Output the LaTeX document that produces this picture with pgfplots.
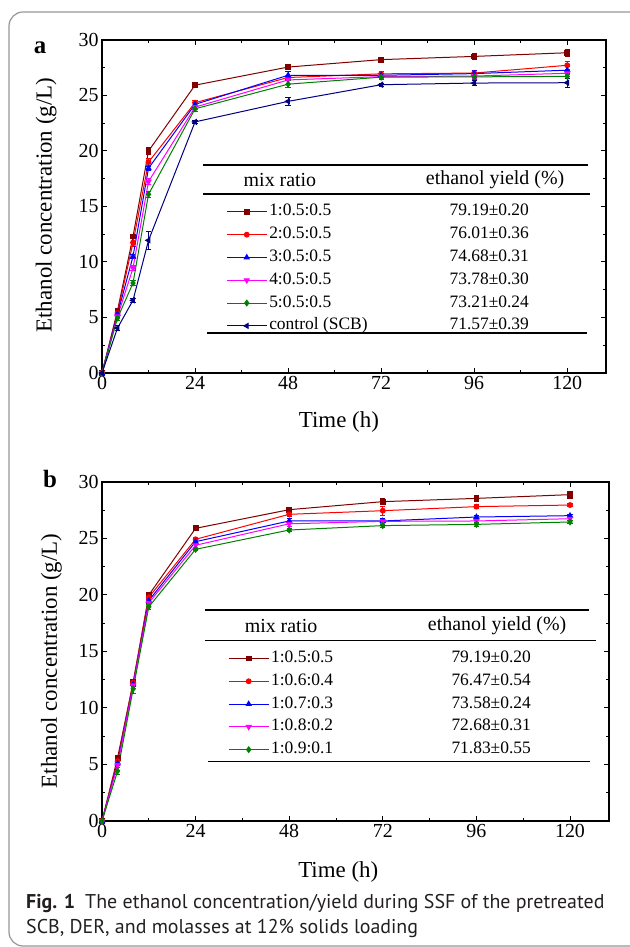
\documentclass[border=0pt]{standalone}
\usepackage{fontspec}
\setmainfont{Liberation Serif}
\newfontfamily\capfont{PT Sans}
\usepackage{pgfplots}
\usepackage{pgfplotstable}
\pgfplotsset{compat=1.18}
\definecolor{colA}{RGB}{128,0,0}
\definecolor{colB}{RGB}{255,0,0}
\definecolor{colC}{RGB}{0,0,255}
\definecolor{colD}{RGB}{255,0,255}
\definecolor{colE}{RGB}{0,128,0}
\definecolor{colF}{RGB}{0,0,128}
\definecolor{framec}{RGB}{150,150,150}
\definecolor{capc}{RGB}{35,31,32}

\pgfplotstableread{
x  a     ea    b     eb    c     ec    d     ed    e     ee    f     ef
0  0     0.01  0     0.01  0     0.01  0     0.01  0     0.01  0     0.01
4  5.62  0.15  5.40  0.20  5.30  0.20  5.10  0.20  4.95  0.20  4.05  0.20
8  12.30 0.15  11.75 0.35  10.50 0.20  9.45  0.20  8.10  0.20  6.55  0.20
12 20.00 0.30  19.00 0.30  18.45 0.20  17.25 0.30  16.10 0.30  11.95 0.80
24 25.93 0.10  24.35 0.20  24.20 0.20  23.95 0.20  23.80 0.20  22.62 0.15
48 27.56 0.20  26.62 0.20  26.82 0.35  26.40 0.40  26.02 0.30  24.47 0.35
72 28.23 0.20  26.95 0.20  26.82 0.20  26.70 0.20  26.65 0.20  25.97 0.15
96 28.52 0.25  27.02 0.20  26.97 0.30  26.75 0.20  26.68 0.20  26.12 0.20
120 28.85 0.30 27.72 0.35  27.28 0.30  27.00 0.30  26.72 0.20  26.15 0.40
}\tabA

\pgfplotstableread{
x  a     ea    b     eb    c     ec    d     ed    e     ee
0  0     0.01  0     0.01  0     0.01  0     0.01  0     0.01
4  5.60  0.20  5.30  0.30  5.10  0.20  4.95  0.20  4.42  0.30
8  12.30 0.20  12.25 0.20  12.10 0.20  12.00 0.30  11.70 0.40
12 20.00 0.20  19.80 0.20  19.50 0.20  19.30 0.20  18.95 0.20
24 25.90 0.10  24.93 0.15  24.72 0.15  24.40 0.15  24.04 0.10
48 27.55 0.20  27.14 0.20  26.55 0.20  26.30 0.20  25.75 0.15
72 28.26 0.25  27.46 0.40  26.55 0.20  26.52 0.20  26.14 0.15
96 28.55 0.25  27.82 0.20  26.90 0.15  26.55 0.20  26.25 0.15
120 28.88 0.30 27.96 0.15  27.02 0.15  26.75 0.15  26.46 0.15
}\tabB

\pgfplotsset{
  myaxis/.style={
    scale only axis, xmin=0, xmax=130, ymin=0, ymax=30,
    xtick={0,24,...,120}, ytick={0,5,...,30},
    minor x tick num=1, minor y tick num=1,
    tick align=inside, major tick length=5bp, minor tick length=3bp,
    axis line style={line width=1.3bp},
    every tick/.style={line width=1bp, black},
    ticklabel style={font=\rmfamily\fontsize{20}{20}\selectfont},
    /pgf/number format/assume math mode=true,
    label style={font=\rmfamily\fontsize{23}{23}\selectfont},
    clip=false,
    legend cell align=left,
    legend image code/.code={\draw[mark repeat=2,mark phase=2,#1] plot coordinates {(0bp,0bp) (20bp,0bp) (40bp,0bp)};},
    legend style={draw=none, fill=none, inner sep=0pt, row sep=0pt,
      font=\rmfamily\fontsize{17.5}{17.5}\selectfont,
      nodes={text height=12bp, text depth=4bp, inner ysep=3.4bp}},
    error bars/error bar style={line width=0.8bp},
    error bars/error mark options={rotate=90, mark size=2.6bp, line width=0.8bp},
  },
  ser/.style={color=#1, line width=1bp, mark size=2.4bp,
    error bars/y dir=both, error bars/y explicit},
}
\newcommand{\ent}[2]{\makebox[150bp][l]{#1}\makebox[140bp][c]{#2}}

\begin{document}
\begin{tikzpicture}[x=1bp,y=1bp]
\useasboundingbox (0,0) rectangle (630,947);
\begin{scope}
\clip (0,0) rectangle (630,947);
\draw[framec, line width=1.2bp, rounded corners=14bp] (9,1) rectangle (720,935);
\end{scope}

% ---------------- panel a ----------------
\begin{axis}[myaxis, at={(102bp,574bp)}, anchor=south west, width=504bp, height=333bp,
  xlabel={Time (h)}, ylabel={Ethanol concentration (g/L)},
  xlabel style={at={(axis description cs:0.47,-0.147)}, anchor=center},
  ylabel style={at={(axis description cs:-0.111,0.504)}, anchor=center},
  legend style={at={(axis cs:32.0,15.56)}, anchor=north west}]
\addplot[ser=colA, mark=square*, mark options={solid}] table[x=x,y=a,y error=ea] {\tabA};
\addlegendentry{\ent{1:0.5:0.5}{79.19±0.20}}
\addplot[ser=colB, mark=*, mark options={solid}] table[x=x,y=b,y error=eb] {\tabA};
\addlegendentry{\ent{2:0.5:0.5}{76.01±0.36}}
\addplot[ser=colC, mark=triangle*, mark size=2.8bp, mark options={solid}] table[x=x,y=c,y error=ec] {\tabA};
\addlegendentry{\ent{3:0.5:0.5}{74.68±0.31}}
\addplot[ser=colD, mark=triangle*, mark size=2.8bp, mark options={solid,rotate=180}] table[x=x,y=d,y error=ed] {\tabA};
\addlegendentry{\ent{4:0.5:0.5}{73.78±0.30}}
\addplot[ser=colE, mark=diamond*, mark size=2.8bp, mark options={solid}] table[x=x,y=e,y error=ee] {\tabA};
\addlegendentry{\ent{5:0.5:0.5}{73.21±0.24}}
\addplot[ser=colF, mark=triangle*, mark size=2.8bp, mark options={solid,rotate=90}] table[x=x,y=f,y error=ef] {\tabA};
\addlegendentry{\ent{control (SCB)}{71.57±0.39}}
\draw[line width=1.4bp] (axis cs:26.05,18.74) -- (axis cs:125.4,18.74);
\draw[line width=1.4bp] (axis cs:26.05,16.13) -- (axis cs:125.9,16.13);
\draw[line width=1.4bp] (axis cs:27.1,3.6) -- (axis cs:125.1,3.6);
\node[font=\rmfamily\fontsize{20}{20}\selectfont] at (axis cs:45.9,17.4) {mix ratio};
\node[font=\rmfamily\fontsize{20}{20}\selectfont] at (axis cs:101.4,17.4) {ethanol yield (\%)};
\end{axis}
\node[font=\rmfamily\bfseries\fontsize{25}{25}\selectfont] at (40bp,899bp) {a};

% ---------------- panel b ----------------
\begin{axis}[myaxis, at={(102bp,126bp)}, anchor=south west, width=507bp, height=339bp,
  xlabel={Time (h)}, ylabel={Ethanol concentration (g/L)},
  xlabel style={at={(axis description cs:0.466,-0.149)}, anchor=center},
  ylabel style={at={(axis description cs:-0.100,0.472)}, anchor=center},
  legend style={at={(axis cs:32.3,15.41)}, anchor=north west}]
\addplot[ser=colA, mark=square*, mark options={solid}] table[x=x,y=a,y error=ea] {\tabB};
\addlegendentry{\ent{1:0.5:0.5}{79.19±0.20}}
\addplot[ser=colB, mark=*, mark options={solid}] table[x=x,y=b,y error=eb] {\tabB};
\addlegendentry{\ent{1:0.6:0.4}{76.47±0.54}}
\addplot[ser=colC, mark=triangle*, mark size=2.8bp, mark options={solid}] table[x=x,y=c,y error=ec] {\tabB};
\addlegendentry{\ent{1:0.7:0.3}{73.58±0.24}}
\addplot[ser=colD, mark=triangle*, mark size=2.8bp, mark options={solid,rotate=180}] table[x=x,y=d,y error=ed] {\tabB};
\addlegendentry{\ent{1:0.8:0.2}{72.68±0.31}}
\addplot[ser=colE, mark=diamond*, mark size=2.8bp, mark options={solid}] table[x=x,y=e,y error=ee] {\tabB};
\addlegendentry{\ent{1:0.9:0.1}{71.83±0.55}}
\draw[line width=1.4bp] (axis cs:26.4,18.67) -- (axis cs:124.9,18.67);
\draw[line width=1.4bp] (axis cs:26.4,15.96) -- (axis cs:126.7,15.96);
\draw[line width=1.4bp] (axis cs:27.2,5.25) -- (axis cs:125.1,5.25);
\node[font=\rmfamily\fontsize{20}{20}\selectfont] at (axis cs:45.9,17.26) {mix ratio};
\node[font=\rmfamily\fontsize{20}{20}\selectfont] at (axis cs:101.3,17.26) {ethanol yield (\%)};
\end{axis}
\node[font=\rmfamily\bfseries\fontsize{25}{25}\selectfont] at (50bp,468bp) {b};

% ---------------- caption ----------------
\node[anchor=base west, inner sep=0pt, text=capc, font=\capfont\fontsize{20}{20}\selectfont] at (26bp,38bp) {\textbf{Fig. 1}\hspace{0.5em}The ethanol concentration/yield during SSF of the pretreated};
\node[anchor=base west, inner sep=0pt, text=capc, font=\capfont\fontsize{20}{20}\selectfont] at (26bp,13bp) {SCB, DER, and molasses at 12\% solids loading};
\end{tikzpicture}
\end{document}
